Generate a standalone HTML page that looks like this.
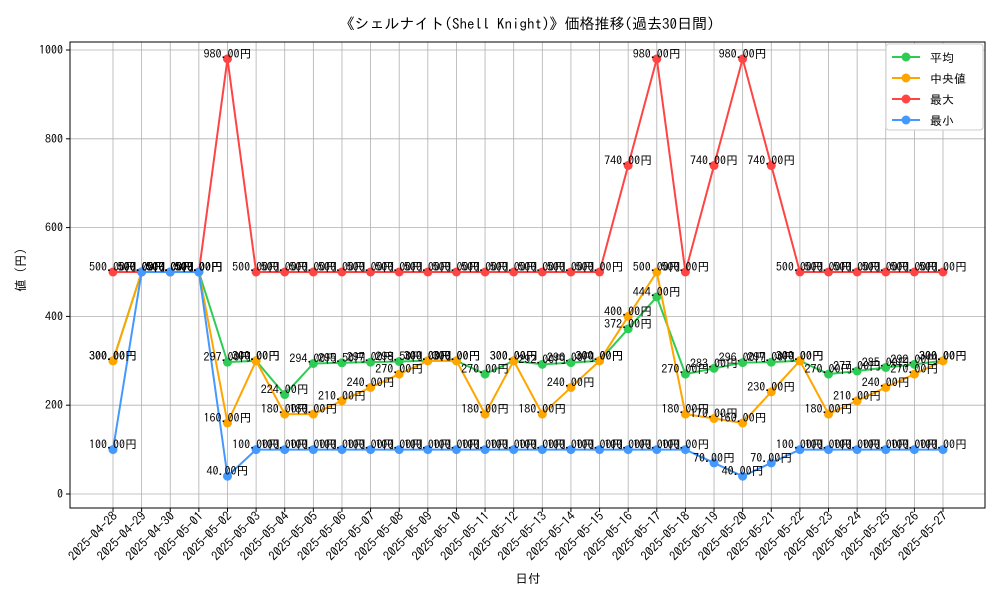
<!DOCTYPE html>
<html><head><meta charset="utf-8"><style>
body{margin:0;background:#fff}
svg text{font-family:"IPAGothic","Noto Sans CJK JP",sans-serif}
</style></head><body>
<svg id="c" width="1000" height="600" xmlns="http://www.w3.org/2000/svg"></svg>
<script>
const categories=["2025-04-28","2025-04-29","2025-04-30","2025-05-01","2025-05-02","2025-05-03","2025-05-04","2025-05-05","2025-05-06","2025-05-07","2025-05-08","2025-05-09","2025-05-10","2025-05-11","2025-05-12","2025-05-13","2025-05-14","2025-05-15","2025-05-16","2025-05-17","2025-05-18","2025-05-19","2025-05-20","2025-05-21","2025-05-22","2025-05-23","2025-05-24","2025-05-25","2025-05-26","2025-05-27"];
const meanValues=[300,500,500,500,297,300,224,294,295.5,297,298.5,300,300,270,300,292,296,300,372,444,270,283,296,297,300,270,277,285,292,300];
const medianValues=[300,500,500,500,160,300,180,180,210,240,270,300,300,180,300,180,240,300,400,500,180,170,160,230,300,180,210,240,270,300];
const maxValues=[500,500,500,500,980,500,500,500,500,500,500,500,500,500,500,500,500,500,740,980,500,740,980,740,500,500,500,500,500,500];
const minValues=[100,500,500,500,40,100,100,100,100,100,100,100,100,100,100,100,100,100,100,100,100,70,40,70,100,100,100,100,100,100];
const yTicks=[0,200,400,600,800,1000];
const seriesNames=["平均","中央値","最大","最小"];

const svg=document.getElementById('c');const NS="http://www.w3.org/2000/svg";
function el(t,a,p){const e=document.createElementNS(NS,t);for(const k in a)e.setAttribute(k,a[k]);(p||svg).appendChild(e);return e;}
const L=70,R=985,T=42,B=508;
const x=i=>113+i*(943-113)/(categories.length-1);
const y=v=>494-v*(494-50)/1000;
let g;
for(const v of yTicks){g=el('line',{x1:L,x2:R,y1:y(v),y2:y(v),stroke:'#b0b0b0','stroke-width':0.8});

}
categories.forEach((c,i)=>{g=el('line',{x1:x(i),x2:x(i),y1:T,y2:B,stroke:'#b0b0b0','stroke-width':0.8});

});
const frame=el('rect',{x:L,y:T,width:R-L,height:B-T,fill:'none',stroke:'#000','stroke-width':1});


for(const v of yTicks){el('line',{x1:L-4,x2:L,y1:y(v),y2:y(v),stroke:'#000'});
const t=el('text',{x:L-7,y:y(v)+4,'text-anchor':'end','font-size':12});t.textContent=v;

}
categories.forEach((c,i)=>{el('line',{x1:x(i),x2:x(i),y1:B,y2:B+4,stroke:'#000'});
const t=el('text',{x:x(i)+5,y:B+9,'text-anchor':'end','font-size':12.5,transform:`rotate(-45 ${x(i)+5} ${B+9})`});t.textContent=c;

});
const series=[[meanValues,'#2ecc55'],[medianValues,'#ffa500'],[maxValues,'#ff4444'],[minValues,'#4499ff']];
series.forEach(([vals,col],si)=>{
const gr=el('g',{});


el('polyline',{points:vals.map((v,i)=>x(i)+','+y(v)).join(' '),fill:'none',stroke:col,'stroke-width':2},gr);
vals.forEach((v,i)=>{const c=el('circle',{cx:x(i),cy:y(v),r:4.5,fill:col},gr);

});
});
series.forEach(([vals])=>{vals.forEach((v,i)=>{const t=el('text',{x:x(i),y:y(v)-1,'text-anchor':'middle','font-size':12});t.textContent=v.toFixed(2)+'円';

});});
let t=el('text',{x:527,y:29,'text-anchor':'middle','font-size':15});t.textContent='《シェルナイト(Shell Knight)》価格推移(過去30日間)';


t=el('text',{x:528,y:583,'text-anchor':'middle','font-size':12.5});t.textContent='日付';


t=el('text',{x:25,y:270,'text-anchor':'middle','font-size':12.5,transform:'rotate(-90 25 270)'});t.textContent='値 (円)';


const lg=el('g',{});


el('rect',{x:886,y:44,width:97,height:86,fill:'#fff',stroke:'#ccc',rx:3},lg);
series.forEach(([v,col],i)=>{const yy=57+i*21;
const e=el('g',{},lg);


el('line',{x1:892,x2:920,y1:yy,y2:yy,stroke:col,'stroke-width':2},e);
el('circle',{cx:906,cy:yy,r:4.5,fill:col},e);
const tt=el('text',{x:930,y:yy+5,'font-size':12},e);tt.textContent=seriesNames[i];});
</script>
</body></html>
